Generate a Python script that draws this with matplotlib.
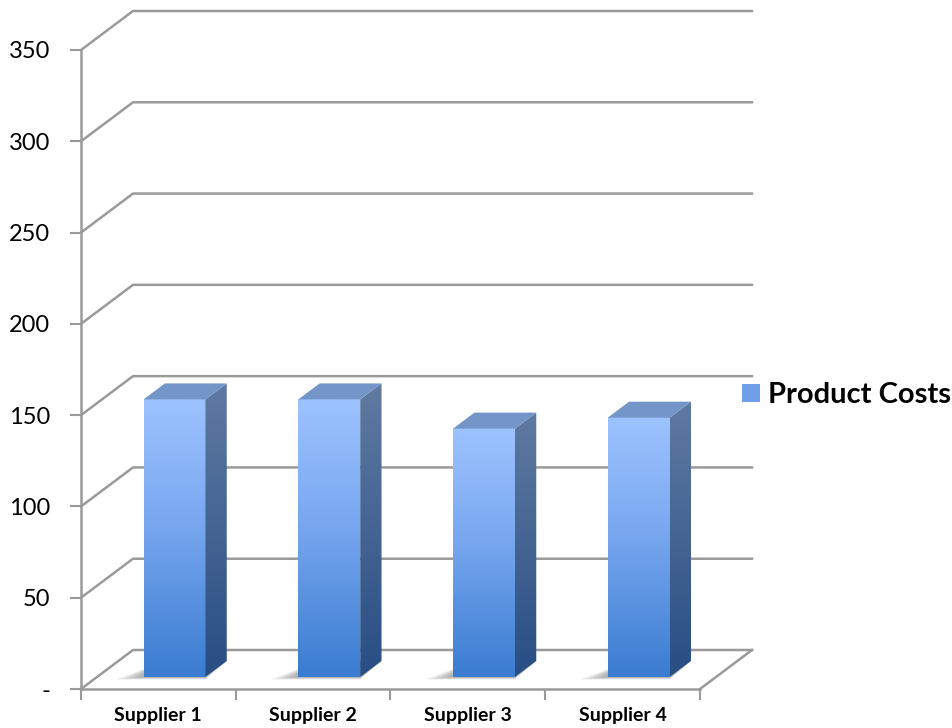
import numpy as np
import matplotlib
matplotlib.use("Agg")
import matplotlib.pyplot as plt
from matplotlib.patches import Polygon, Patch
from matplotlib.colors import LinearSegmentedColormap

# data
suppliers = ["Supplier 1", "Supplier 2", "Supplier 3", "Supplier 4"]
costs = [152, 152, 136, 142]
series_name = "Product Costs"
y_ticks = [0, 50, 100, 150, 200, 250, 300, 350]
y_labels = ["-", "50", "100", "150", "200", "250", "300", "350"]

plt.rcParams['font.family'] = ['Lato', 'DejaVu Sans']

W, H = 953, 728
fig = plt.figure(figsize=(W / 100, H / 100), dpi=100)
ax = fig.add_axes([81 / W, (H - 689) / H, (700 - 81) / W, (689 - 50) / H])
ax.set_xlim(0, len(suppliers))
ax.set_ylim(0, 350)

# oblique depth offset in data units
DX = 52 / 154.75
DY = 39 / (639 / 350)
grid_c = "#9a9a9a"

# walls / grid
for v in y_ticks:
    ax.plot([0, DX, len(suppliers) + DX], [v, v + DY, v + DY],
            color=grid_c, lw=1.8, clip_on=False, zorder=1)
ax.plot([len(suppliers), len(suppliers) + DX], [0, DY],
        color=grid_c, lw=1.8, clip_on=False, zorder=1)

front_cm = LinearSegmentedColormap.from_list(
    "front", [(0, (58/255, 124/255, 208/255)), (0.55, (120/255, 167/255, 240/255)),
              (1, (157/255, 195/255, 255/255))])
side_cm = LinearSegmentedColormap.from_list(
    "side", [(0, (40/255, 78/255, 132/255)), (1, (96/255, 122/255, 162/255))])
grad = np.linspace(0, 1, 256).reshape(-1, 1)

d0, d1 = 0.31, 0.72
bw = 0.4
for i, v in enumerate(costs):
    x0 = i + 0.5 - bw / 2 + d0 * DX
    x1 = x0 + bw
    yb = d0 * DY
    ox, oy = (d1 - d0) * DX, (d1 - d0) * DY
    # soft shadow on the floor
    for k in range(6):
        s = 0.012 * (6 - k)
        sh = Polygon([(x0 - s * 2.5, yb - s * 20), (x1, yb - s * 20),
                      (x1 + ox, yb + oy), (x0 + ox, yb + oy)],
                     closed=True, fc="#000000", ec="none", alpha=0.06,
                     zorder=2, clip_on=False)
        ax.add_patch(sh)
    # front face
    ax.imshow(grad, cmap=front_cm, origin="lower", aspect="auto",
              extent=[x0, x1, yb, yb + v], zorder=3, clip_on=False)
    # side face
    side = Polygon([(x1, yb), (x1 + ox, yb + oy), (x1 + ox, yb + oy + v), (x1, yb + v)],
                   closed=True, fc="none", ec="none")
    ax.add_patch(side)
    im = ax.imshow(grad, cmap=side_cm, origin="lower", aspect="auto",
                   extent=[x1, x1 + ox, yb, yb + oy + v], zorder=3)
    im.set_clip_path(side)
    # top face
    top = Polygon([(x0, yb + v), (x1, yb + v), (x1 + ox, yb + v + oy), (x0 + ox, yb + v + oy)],
                  closed=True, fc="#7395c8", ec="none", zorder=3, clip_on=False)
    ax.add_patch(top)

ax.set_xlim(0, len(suppliers))
ax.set_ylim(0, 350)

for s in ["top", "right"]:
    ax.spines[s].set_visible(False)
for s in ["left", "bottom"]:
    ax.spines[s].set_color(grid_c)
    ax.spines[s].set_linewidth(1.8)

ax.set_yticks(y_ticks)
ax.set_yticklabels(y_labels, fontsize=17)
ax.tick_params(axis="y", length=8, width=1.5, color=grid_c, pad=14)
ax.set_xticks(range(len(suppliers) + 1))
ax.set_xticklabels([])
ax.set_xticks([i + 0.5 for i in range(len(suppliers))], minor=True)
ax.set_xticklabels(suppliers, minor=True, fontsize=14, fontweight="bold")
ax.tick_params(axis="x", which="major", length=8, width=1.5, color=grid_c)
ax.tick_params(axis="x", which="minor", length=0, pad=13)

leg = ax.legend(handles=[Patch(fc="#6f9fe8", ec="none")], labels=[series_name],
                loc="center left", bbox_to_anchor=(1.068, 0.46), frameon=False,
                prop={"size": 21, "weight": "bold"}, handlelength=0.6,
                handleheight=0.6, handletextpad=0.3, borderaxespad=0,
                borderpad=0)

fig.savefig("out.png", dpi=100)
